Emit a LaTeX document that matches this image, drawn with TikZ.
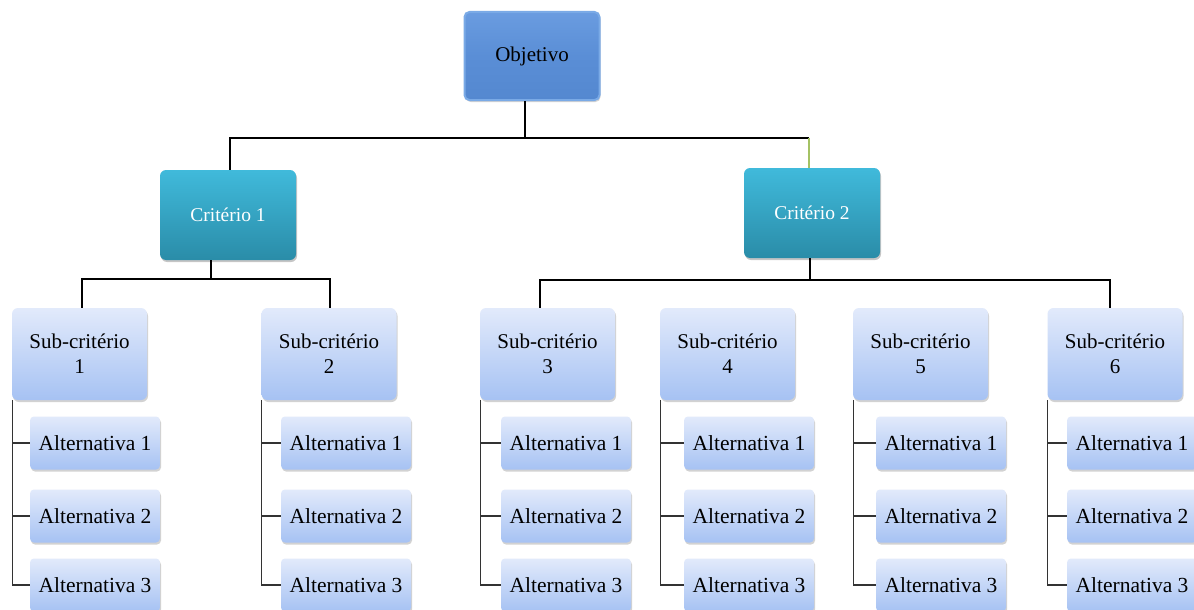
\documentclass[tikz,border=0pt]{standalone}
\usepackage{fontspec}
\setmainfont{Liberation Serif}
\usetikzlibrary{shadows,positioning}

\definecolor{objtop}{HTML}{6A9CE0}
\definecolor{objmid}{HTML}{5A8ED6}
\definecolor{objbot}{HTML}{5488D0}
\definecolor{objedge}{HTML}{7AAAE6}
\definecolor{crtop}{HTML}{40BADB}
\definecolor{crbot}{HTML}{2A8CA8}
\definecolor{subtop}{HTML}{E2EAFB}
\definecolor{subbot}{HTML}{A6C2F3}
\definecolor{linkgreen}{HTML}{A4C264}
\definecolor{bracket}{HTML}{333333}

\tikzset{
  objbox/.style={rounded corners=5pt, minimum width=135pt, minimum height=88pt,
    top color=objtop, bottom color=objbot, middle color=objmid,
    draw=objedge, line width=2pt,
    font=\fontsize{21}{25}\selectfont,
    drop shadow={opacity=0.35, shadow xshift=1pt, shadow yshift=-2pt}},
  critbox/.style={rounded corners=6pt, minimum width=136pt, minimum height=90pt,
    top color=crtop, bottom color=crbot, text=white,
    font=\fontsize{19.5}{24}\selectfont,
    drop shadow={opacity=0.45, shadow xshift=1pt, shadow yshift=-2pt}},
  subbox/.style={rounded corners=6pt, minimum width=135pt, minimum height=92pt,
    top color=subtop, bottom color=subbot, align=center,
    font=\fontsize{21}{25}\selectfont,
    drop shadow={opacity=0.35, shadow xshift=1pt, shadow yshift=-2pt}},
  altbox/.style={rounded corners=4pt, minimum width=130pt, minimum height=53pt,
    top color=subtop, bottom color=subbot,
    font=\fontsize{21.5}{25}\selectfont,
    drop shadow={opacity=0.35, shadow xshift=1pt, shadow yshift=-2pt}},
  link/.style={draw=black, line width=1.4pt},
  brk/.style={draw=bracket, line width=1.3pt},
}

\begin{document}
\begin{tikzpicture}[x=1pt, y=-1pt]
\useasboundingbox (0,0) rectangle (1194,610);
\fill[white] (0,0) rectangle (1194,610);

% branching points of the connectors
\coordinate (split) at (525,138);
\coordinate (c2green) at (809,138);
\coordinate (c1split) at (211,279);
\coordinate (c2split) at (810,280);

% top level
\node[objbox] (obj) at (532,56) {Objetivo};

% criteria
\node[critbox] (c1) at (228,215) {Critério 1};
\node[critbox] (c2) at (812,213) {Critério 2};

% sub-criteria
\node[subbox] (s1) at (79.5,354) {Sub-critério\\1};
\node[subbox] (s2) at (329,354) {Sub-critério\\2};
\node[subbox] (s3) at (547.5,354) {Sub-critério\\3};
\node[subbox] (s4) at (727.5,354) {Sub-critério\\4};
\node[subbox] (s5) at (920.5,354) {Sub-critério\\5};
\node[subbox] (s6) at (1115,354) {Sub-critério\\6};

% alternatives under each sub-criterion
\foreach \s/\ax in {1/95, 2/346, 3/566, 4/749, 5/941, 6/1132} {
  \node[altbox] (a\s1) at (\ax,443) {Alternativa 1};
  \node[altbox] (a\s2) at (\ax,516) {Alternativa 2};
  \node[altbox] (a\s3) at (\ax,585) {Alternativa 3};
}

% objective to criteria
\draw[link] ([xshift=-7pt]obj.south) -- (split) -| ([xshift=2pt]c1.north);
\draw[link] (split) -| (c2green);
\draw[draw=linkgreen, line width=1.2pt] (c2green) -- ([xshift=-3pt]c2.north);

% criterion 1 to its sub-criteria
\draw[link] ([xshift=-17pt]c1.south) -- (c1split) -| ([xshift=2.5pt]s1.north);
\draw[link] (c1split) -| ([xshift=1pt]s2.north);

% criterion 2 to its sub-criteria
\draw[link] ([xshift=-2pt]c2.south) -- (c2split) -| ([xshift=-7.5pt]s3.north);
\draw[link] (c2split) -| ([xshift=-5pt]s6.north);

% brackets from each sub-criterion to its alternatives
\foreach \s in {1,...,6} {
  \draw[brk] ([xshift=0.5pt]s\s.south west) |- (a\s3.west);
  \draw[brk] ([xshift=0.5pt]s\s.south west |- a\s1.west) -- (a\s1.west);
  \draw[brk] ([xshift=0.5pt]s\s.south west |- a\s2.west) -- (a\s2.west);
}
\end{tikzpicture}
\end{document}
